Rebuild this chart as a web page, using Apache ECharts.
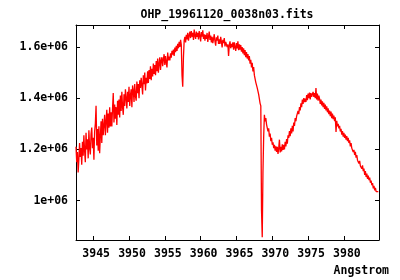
<!DOCTYPE html>
<html>
<head>
<meta charset="utf-8">
<script src="https://cdn.jsdelivr.net/npm/echarts@6/dist/echarts.min.js"></script>
<style>html,body{margin:0;padding:0;background:#fff}#c{width:400px;height:280px}</style>
</head>
<body>
<div id="c"></div>
<script>
var titleText = 'OHP_19961120_0038n03.fits';
var xAxisTitle = 'Angstrom';
var xTicks = [3945, 3950, 3955, 3960, 3965, 3970, 3975, 3980];
var yTicks = [1000000, 1200000, 1400000, 1600000];
var yTickLabels = ['1e+06', '1.2e+06', '1.4e+06', '1.6e+06'];

var wavelength = [
3942.6,3942.7,3942.8,3942.9,3943.0,3943.1,3943.2,3943.3,3943.4,3943.5,
3943.6,3943.7,3943.8,3943.9,3944.0,3944.1,3944.2,3944.3,3944.4,3944.5,
3944.6,3944.7,3944.8,3944.9,3945.0,3945.1,3945.2,3945.3,3945.4,3945.5,
3945.6,3945.7,3945.8,3945.9,3946.0,3946.1,3946.2,3946.3,3946.4,3946.5,
3946.6,3946.7,3946.8,3946.9,3947.0,3947.1,3947.2,3947.3,3947.4,3947.5,
3947.6,3947.7,3947.8,3947.9,3948.0,3948.1,3948.2,3948.3,3948.4,3948.5,
3948.6,3948.7,3948.8,3948.9,3949.0,3949.1,3949.2,3949.3,3949.4,3949.5,
3949.6,3949.7,3949.8,3949.9,3950.0,3950.1,3950.2,3950.3,3950.4,3950.5,
3950.6,3950.7,3950.8,3950.9,3951.0,3951.1,3951.2,3951.3,3951.4,3951.5,
3951.6,3951.7,3951.8,3951.9,3952.0,3952.1,3952.2,3952.3,3952.4,3952.5,
3952.6,3952.7,3952.8,3952.9,3953.0,3953.1,3953.2,3953.3,3953.4,3953.5,
3953.6,3953.7,3953.8,3953.9,3954.0,3954.1,3954.2,3954.3,3954.4,3954.5,
3954.6,3954.7,3954.8,3954.9,3955.0,3955.1,3955.2,3955.3,3955.4,3955.5,
3955.6,3955.7,3955.8,3955.9,3956.0,3956.1,3956.2,3956.3,3956.4,3956.5,
3956.6,3956.7,3956.8,3956.9,3957.0,3957.1,3957.2,3957.3,3957.4,3957.5,
3957.6,3957.7,3957.8,3957.9,3958.0,3958.1,3958.2,3958.3,3958.4,3958.5,
3958.6,3958.7,3958.8,3958.9,3959.0,3959.1,3959.2,3959.3,3959.4,3959.5,
3959.6,3959.7,3959.8,3959.9,3960.0,3960.1,3960.2,3960.3,3960.4,3960.5,
3960.6,3960.7,3960.8,3960.9,3961.0,3961.1,3961.2,3961.3,3961.4,3961.5,
3961.6,3961.7,3961.8,3961.9,3962.0,3962.1,3962.2,3962.3,3962.4,3962.5,
3962.6,3962.7,3962.8,3962.9,3963.0,3963.1,3963.2,3963.3,3963.4,3963.5,
3963.6,3963.7,3963.8,3963.9,3964.0,3964.1,3964.2,3964.3,3964.4,3964.5,
3964.6,3964.7,3964.8,3964.9,3965.0,3965.1,3965.2,3965.3,3965.4,3965.5,
3965.6,3965.7,3965.8,3965.9,3966.0,3966.1,3966.2,3966.3,3966.4,3966.5,
3966.6,3966.7,3966.8,3966.9,3967.0,3967.1,3967.2,3967.3,3967.4,3967.5,
3967.6,3967.7,3967.8,3967.9,3968.0,3968.1,3968.2,3968.3,3968.4,3968.5,
3968.6,3968.7,3968.8,3968.9,3969.0,3969.1,3969.2,3969.3,3969.4,3969.5,
3969.6,3969.7,3969.8,3969.9,3970.0,3970.1,3970.2,3970.3,3970.4,3970.5,
3970.6,3970.7,3970.8,3970.9,3971.0,3971.1,3971.2,3971.3,3971.4,3971.5,
3971.6,3971.7,3971.8,3971.9,3972.0,3972.1,3972.2,3972.3,3972.4,3972.5,
3972.6,3972.7,3972.8,3972.9,3973.0,3973.1,3973.2,3973.3,3973.4,3973.5,
3973.6,3973.7,3973.8,3973.9,3974.0,3974.1,3974.2,3974.3,3974.4,3974.5,
3974.6,3974.7,3974.8,3974.9,3975.0,3975.1,3975.2,3975.3,3975.4,3975.5,
3975.6,3975.7,3975.8,3975.9,3976.0,3976.1,3976.2,3976.3,3976.4,3976.5,
3976.6,3976.7,3976.8,3976.9,3977.0,3977.1,3977.2,3977.3,3977.4,3977.5,
3977.6,3977.7,3977.8,3977.9,3978.0,3978.1,3978.2,3978.3,3978.4,3978.5,
3978.6,3978.7,3978.8,3978.9,3979.0,3979.1,3979.2,3979.3,3979.4,3979.5,
3979.6,3979.7,3979.8,3979.9,3980.0,3980.1,3980.2,3980.3,3980.4,3980.5,
3980.6,3980.7,3980.8,3980.9,3981.0,3981.1,3981.2,3981.3,3981.4,3981.5,
3981.6,3981.7,3981.8,3981.9,3982.0,3982.1,3982.2,3982.3,3982.4,3982.5,
3982.6,3982.7,3982.8,3982.9,3983.0,3983.1,3983.2,3983.3,3983.4,3983.5,
3983.6,3983.7,3983.8,3983.9,3984.0,3984.1,3984.2,3984.3,3984.4,3984.5,
3984.6,3984.7,3984.8
];

var flux = [
1210e3,1150e3,1190e3,1110e3,1160e3,1225e3,1170e3,1205e3,1140e3,1230e3,
1175e3,1255e3,1195e3,1150e3,1265e3,1200e3,1240e3,1165e3,1275e3,1205e3,
1180e3,1260e3,1285e3,1205e3,1245e3,1160e3,1270e3,1300e3,1370e3,1215e3,
1280e3,1195e3,1290e3,1185e3,1250e3,1310e3,1225e3,1320e3,1255e3,1295e3,
1335e3,1255e3,1310e3,1355e3,1265e3,1340e3,1285e3,1365e3,1290e3,1345e3,
1290e3,1360e3,1420e3,1305e3,1375e3,1320e3,1365e3,1295e3,1390e3,1335e3,
1395e3,1325e3,1410e3,1350e3,1425e3,1365e3,1335e3,1415e3,1370e3,1435e3,
1400e3,1360e3,1425e3,1385e3,1445e3,1370e3,1410e3,1435e3,1365e3,1450e3,
1430e3,1385e3,1455e3,1410e3,1390e3,1465e3,1420e3,1455e3,1400e3,1470e3,
1440e3,1480e3,1450e3,1415e3,1490e3,1455e3,1500e3,1430e3,1480e3,1458e3,
1505e3,1460e3,1510e3,1475e3,1525e3,1470e3,1515e3,1485e3,1535e3,1495e3,
1530e3,1490e3,1545e3,1505e3,1555e3,1500e3,1535e3,1560e3,1510e3,1548e3,
1560e3,1525e3,1552e3,1572e3,1530e3,1565e3,1540e3,1520e3,1578e3,1548e3,
1562e3,1548e3,1575e3,1558e3,1585e3,1570e3,1590e3,1565e3,1598e3,1580e3,
1605e3,1585e3,1612e3,1595e3,1620e3,1600e3,1628e3,1608e3,1490e3,1445e3,
1560e3,1625e3,1640e3,1618e3,1648e3,1630e3,1655e3,1625e3,1645e3,1660e3,
1635e3,1662e3,1640e3,1655e3,1628e3,1668e3,1645e3,1632e3,1660e3,1640e3,
1655e3,1630e3,1662e3,1645e3,1622e3,1658e3,1640e3,1665e3,1632e3,1650e3,
1625e3,1648e3,1632e3,1655e3,1620e3,1642e3,1660e3,1628e3,1645e3,1618e3,
1640e3,1615e3,1632e3,1650e3,1622e3,1605e3,1638e3,1625e3,1645e3,1612e3,
1630e3,1612e3,1640e3,1620e3,1598e3,1628e3,1615e3,1635e3,1602e3,1620e3,
1625e3,1600e3,1610e3,1565e3,1608e3,1622e3,1595e3,1612e3,1600e3,1618e3,
1590e3,1618e3,1600e3,1585e3,1615e3,1595e3,1622e3,1588e3,1610e3,1590e3,
1608e3,1582e3,1600e3,1575e3,1595e3,1568e3,1588e3,1560e3,1580e3,1555e3,
1572e3,1548e3,1565e3,1535e3,1550e3,1520e3,1538e3,1505e3,1522e3,1490e3,
1490e3,1462e3,1468e3,1440e3,1445e3,1415e3,1408e3,1380e3,1370e3,960e3,
857e3,1110e3,1250e3,1335e3,1310e3,1322e3,1298e3,1305e3,1270e3,1282e3,
1250e3,1262e3,1232e3,1245e3,1218e3,1228e3,1205e3,1218e3,1195e3,1212e3,
1190e3,1210e3,1182e3,1205e3,1238e3,1188e3,1210e3,1192e3,1220e3,1198e3,
1218e3,1200e3,1230e3,1212e3,1240e3,1222e3,1255e3,1245e3,1272e3,1252e3,
1282e3,1262e3,1292e3,1270e3,1305e3,1292e3,1322e3,1310e3,1330e3,1325e3,
1350e3,1338e3,1365e3,1352e3,1380e3,1365e3,1395e3,1378e3,1400e3,1385e3,
1398e3,1385e3,1412e3,1392e3,1418e3,1400e3,1422e3,1395e3,1420e3,1405e3,
1398e3,1425e3,1405e3,1420e3,1400e3,1440e3,1395e3,1418e3,1390e3,1410e3,
1398e3,1378e3,1395e3,1372e3,1388e3,1365e3,1382e3,1358e3,1375e3,1352e3,
1368e3,1345e3,1360e3,1338e3,1352e3,1330e3,1348e3,1322e3,1340e3,1318e3,
1332e3,1310e3,1325e3,1268e3,1312e3,1290e3,1300e3,1282e3,1292e3,1270e3,
1280e3,1258e3,1272e3,1250e3,1265e3,1245e3,1258e3,1238e3,1252e3,1232e3,
1245e3,1225e3,1235e3,1212e3,1225e3,1205e3,1212e3,1190e3,1198e3,1178e3,
1190e3,1168e3,1178e3,1158e3,1165e3,1145e3,1155e3,1135e3,1142e3,1125e3,
1138e3,1115e3,1125e3,1100e3,1115e3,1092e3,1105e3,1085e3,1098e3,1080e3,
1090e3,1070e3,1078e3,1060e3,1068e3,1048e3,1058e3,1040e3,1050e3,1035e3,
1042e3,1028e3,1035e3
];

var FONT = 'DejaVu Sans Mono';
var seriesData = wavelength.map(function (w, i) { return [w, flux[i]]; });

function xAx(pos, showLabel) {
  return {
    type: 'value', position: pos, min: 3942.6, max: 3984.9,
    axisLine: { show: true, onZero: false, lineStyle: { color: '#000', width: 1 } },
    axisTick: { show: true, inside: true, length: 4, customValues: xTicks, lineStyle: { color: '#000' } },
    axisLabel: { show: showLabel, customValues: xTicks, margin: 8, color: '#000',
      fontFamily: FONT, fontWeight: 'bold', fontSize: 11.5, padding: [0, 0, 0, 6],
      formatter: function (v) { return String(v); } },
    splitLine: { show: false }
  };
}
function yAx(pos, showLabel) {
  return {
    type: 'value', position: pos, min: 846000, max: 1686000,
    axisLine: { show: true, onZero: false, lineStyle: { color: '#000', width: 1 } },
    axisTick: { show: true, inside: true, length: 4, customValues: yTicks, lineStyle: { color: '#000' } },
    axisLabel: { show: showLabel, customValues: yTicks, margin: 8, color: '#000',
      fontFamily: FONT, fontWeight: 'bold', fontSize: 11.5,
      formatter: function (v) { var k = yTicks.indexOf(v); return k >= 0 ? yTickLabels[k] : ''; } },
    splitLine: { show: false }
  };
}

var chart = echarts.init(document.getElementById('c'), null, { renderer: 'canvas' });
chart.setOption({
  animation: false,
  backgroundColor: '#fff',
  grid: { left: 76, right: 21, top: 25, bottom: 40 },
  xAxis: [xAx('bottom', true), xAx('top', false)],
  yAxis: [yAx('left', true), yAx('right', false)],
  graphic: [
    { type: 'text', x: 227, y: 15, style: { text: titleText, fill: '#000', font: 'bold 11.5px "DejaVu Sans Mono"', textAlign: 'center', textVerticalAlign: 'middle' } },
    { type: 'text', x: 389, y: 271, style: { text: xAxisTitle, fill: '#000', font: 'bold 11.5px "DejaVu Sans Mono"', textAlign: 'right', textVerticalAlign: 'middle' } }
  ],
  series: [{
    type: 'line', xAxisIndex: 0, yAxisIndex: 0, data: seriesData,
    showSymbol: false, symbol: 'none', smooth: false, sampling: 'none',
    lineStyle: { color: '#ff0000', width: 1.3 }
  }]
});
</script>
</body>
</html>
